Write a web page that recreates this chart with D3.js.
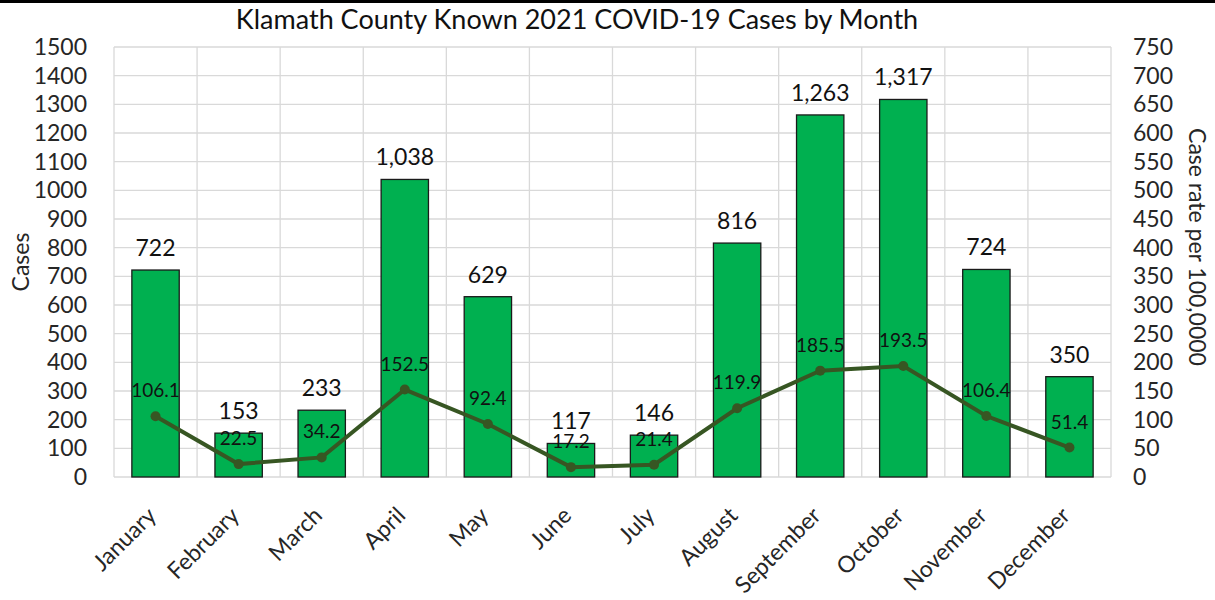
<!DOCTYPE html>
<html>
<head>
<meta charset="utf-8">
<script src="https://cdn.jsdelivr.net/npm/d3@7"></script>
<style>
  body { margin: 0; background: #fff; }
  text { font-family: Lato, "Open Sans", sans-serif; }
  .grid line { stroke: #d9d9d9; stroke-width: 1.3; }
</style>
</head>
<body>
<div id="chart"></div>
<script>
var months = ["January", "February", "March", "April", "May", "June", "July",
              "August", "September", "October", "November", "December"];
var cases = [722, 153, 233, 1038, 629, 117, 146, 816, 1263, 1317, 724, 350];
var rates = [106.1, 22.5, 34.2, 152.5, 92.4, 17.2, 21.4, 119.9, 185.5, 193.5, 106.4, 51.4];
var leftTicks = d3.range(0, 1501, 100);
var rightTicks = d3.range(0, 751, 50);

var fullwidth = 1215, fullheight = 600;
var margin = {top: 47, right: 104, bottom: 123, left: 114};
var width = fullwidth - margin.left - margin.right;
var height = fullheight - margin.top - margin.bottom;

var svgRoot = d3.select("#chart").append("svg")
    .attr("width", fullwidth)
    .attr("height", fullheight);

svgRoot.append("rect")
    .attr("x", 0).attr("y", 0)
    .attr("width", fullwidth).attr("height", 3)
    .attr("fill", "#000");

svgRoot.append("text")
    .attr("x", 577).attr("y", 29)
    .attr("text-anchor", "middle")
    .attr("font-size", 27)
    .attr("fill", "#111")
    .text("Klamath County Known 2021 COVID-19 Cases by Month");

var svg = svgRoot.append("g")
    .attr("transform", "translate(" + margin.left + "," + margin.top + ")");

var xScale = d3.scaleBand().domain(months).range([0, width]).paddingInner(0.43).paddingOuter(0.215);
var xCat = d3.scaleBand().domain(months).range([0, width]);
var yScale = d3.scaleLinear().domain([0, 1500]).range([height, 0]);
var yScale2 = d3.scaleLinear().domain([0, 750]).range([height, 0]);

// gridlines
var grid = svg.append("g").attr("class", "grid");
grid.selectAll("line.h")
    .data(leftTicks)
    .enter().append("line")
    .attr("x1", 0).attr("x2", width)
    .attr("y1", function(d) { return yScale(d); })
    .attr("y2", function(d) { return yScale(d); });
grid.selectAll("line.v")
    .data(months.concat(["_end"]))
    .enter().append("line")
    .attr("x1", function(d, i) { return i < months.length ? xCat(d) : width; })
    .attr("x2", function(d, i) { return i < months.length ? xCat(d) : width; })
    .attr("y1", 0).attr("y2", height);

// bars
svg.selectAll("rect.bar")
    .data(cases)
    .enter().append("rect")
    .attr("class", "bar")
    .attr("x", function(d, i) { return xScale(months[i]); })
    .attr("y", function(d) { return yScale(d); })
    .attr("width", xScale.bandwidth())
    .attr("height", function(d) { return height - yScale(d); })
    .attr("fill", "#00b050")
    .attr("stroke", "#1a1a1a")
    .attr("stroke-width", 1.3);

svg.selectAll("text.barlabel")
    .data(cases)
    .enter().append("text")
    .attr("class", "barlabel")
    .attr("x", function(d, i) { return xScale(months[i]) + xScale.bandwidth() / 2; })
    .attr("y", function(d) { return yScale(d) - 14; })
    .attr("text-anchor", "middle")
    .attr("font-size", 23)
    .attr("fill", "#111")
    .text(function(d) { return d3.format(",")(d); });

// line
var line = d3.line()
    .x(function(d, i) { return xScale(months[i]) + xScale.bandwidth() / 2; })
    .y(function(d) { return yScale2(d); });

svg.append("path")
    .datum(rates)
    .attr("d", line)
    .attr("fill", "none")
    .attr("stroke", "#375623")
    .attr("stroke-width", 4);

svg.selectAll("circle.pt")
    .data(rates)
    .enter().append("circle")
    .attr("class", "pt")
    .attr("cx", function(d, i) { return xScale(months[i]) + xScale.bandwidth() / 2; })
    .attr("cy", function(d) { return yScale2(d); })
    .attr("r", 5)
    .attr("fill", "#375623");

svg.selectAll("text.ratelabel")
    .data(rates)
    .enter().append("text")
    .attr("class", "ratelabel")
    .attr("x", function(d, i) { return xScale(months[i]) + xScale.bandwidth() / 2; })
    .attr("y", function(d) { return yScale2(d) - 19; })
    .attr("text-anchor", "middle")
    .attr("font-size", 19)
    .attr("fill", "#111")
    .text(function(d) { return d3.format(".1f")(d); });

// axes
var yAxis = d3.axisLeft(yScale).tickValues(leftTicks).tickFormat(d3.format("d")).tickSize(0).tickPadding(27);
var yAxis2 = d3.axisRight(yScale2).tickValues(rightTicks).tickFormat(d3.format("d")).tickSize(0).tickPadding(22);
var xAxis = d3.axisBottom(xCat).tickSize(0).tickPadding(0);

var gy = svg.append("g").call(yAxis);
var gy2 = svg.append("g").attr("transform", "translate(" + width + ",0)").call(yAxis2);
var gx = svg.append("g").attr("transform", "translate(0," + height + ")").call(xAxis);

[gy, gy2, gx].forEach(function(g) {
    g.select(".domain").remove();
    g.selectAll("text").attr("font-size", 23).attr("fill", "#262626")
        .style("font-family", "Lato, 'Open Sans', sans-serif");
});

gx.selectAll("text")
    .attr("text-anchor", "end")
    .attr("dy", 0)
    .attr("transform", "translate(2,40) rotate(-45)");

svgRoot.append("text")
    .attr("transform", "translate(29,262) rotate(-90)")
    .attr("text-anchor", "middle")
    .attr("font-size", 23)
    .attr("fill", "#262626")
    .text("Cases");

svgRoot.append("text")
    .attr("transform", "translate(1189,247) rotate(90)")
    .attr("text-anchor", "middle")
    .attr("font-size", 23)
    .attr("fill", "#262626")
    .text("Case rate per 100,0000");
</script>
</body>
</html>
